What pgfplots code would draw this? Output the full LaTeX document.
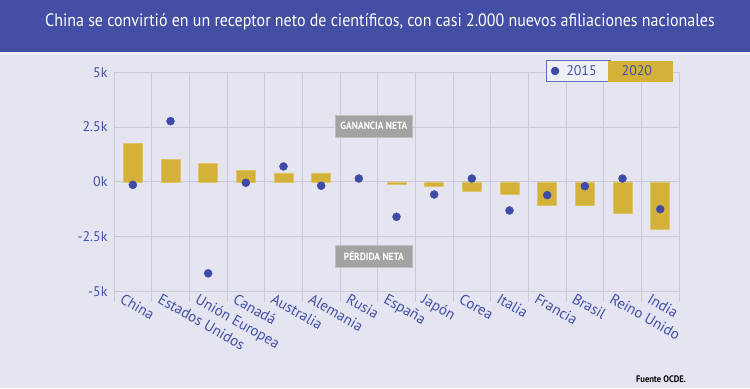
\documentclass[border=0pt]{standalone}
\usepackage{pgfplots}
\pgfplotsset{compat=1.18}
\usepackage{fontspec}
\setmainfont{PT Sans}
\newfontfamily\condfont[FakeStretch=0.89]{PT Sans}
\newfontfamily\boxfont[FakeStretch=0.9]{PT Sans}
\definecolor{band}{HTML}{434EA5}
\definecolor{bg}{HTML}{E4E5F0}
\definecolor{stripe}{HTML}{EDEDF5}
\definecolor{gold}{HTML}{D4B138}
\definecolor{dotc}{HTML}{3D4AA6}
\definecolor{textblue}{HTML}{4350A8}
\definecolor{gridc}{HTML}{C9CADB}
\definecolor{boxgray}{HTML}{A3A3A3}
\begin{document}
\begin{tikzpicture}[x=1bp,y=1bp]
\useasboundingbox (0,0) rectangle (750,388);
\fill[bg] (0,0) rectangle (750,388);
\fill[band] (0,336.3) rectangle (750,388);
\fill[stripe] (0,333) rectangle (750,336.3);
\node[text=white, font=\condfont\fontsize{18}{20}\selectfont] at (380,366) {China se convirtió en un receptor neto de científicos, con casi 2.000 nuevos afiliaciones nacionales};
\node[text=black, font=\boxfont\bfseries\fontsize{9.5}{11}\selectfont] at (661,9) {Fuente OCDE.};
\begin{axis}[
  at={(114bp,96.7bp)}, anchor=south west,
  scale only axis, width=565bp, height=219bp,
  xmin=-0.5, xmax=14.5, ymin=-5000, ymax=5000,
  clip=false,
  axis line style={draw=none},
  tick style={draw=none},
  major tick length=0pt,
  xtick={0,...,14},
  xticklabels={China,Estados Unidos,Unión Europea,Canadá,Australia,Alemania,Rusia,España,Japón,Corea,Italia,Francia,Brasil,Reino Unido,India},
  x tick label style={rotate=-30, anchor=north west, font=\fontsize{15}{17}\selectfont, text=textblue, xshift=-10bp, yshift=-2bp},
  ytick={-5000,-2500,0,2500,5000},
  yticklabels={-5k,-2.5k,0k,2.5k,5k},
  y tick label style={font=\fontsize{14}{16}\selectfont, text=textblue, xshift=-3bp},
  ymajorgrids,
  major grid style={gridc, line width=1bp},
  legend style={draw=none, fill=none, at={(axis description cs:0.7676,1.006)}, anchor=west,
    font=\fontsize{14}{16}\selectfont, text=textblue, legend columns=2,
    /tikz/every odd column/.append style={column sep=5bp},
    /tikz/every even column/.append style={column sep=16bp}},
]
\addlegendimage{legend image code/.code={\draw[overlay, draw=dotc!80!white, line width=1bp, fill=bg!60!white] (-8.4bp,-10.15bp) rectangle (55.6bp,10.15bp); \fill[dotc] (0,0) circle (4bp);}}
\addlegendentry{2015}
\addlegendimage{legend image code/.code={\fill[overlay, gold] (-6.4bp,-10.15bp) rectangle (57.3bp,10.15bp); \path[draw=none, fill=none] (0,-4bp) -- (0,4bp);}}
\addlegendentry{2020}
\pgfplotsinvokeforeach{-0.5,0.5,1.5,2.5,3.5,4.5,5.5,6.5,7.5,8.5,9.5,10.5,11.5,12.5,13.5,14.5}{
  \draw[gridc, line width=1bp] (axis cs:#1,5000) -- (axis cs:#1,-5500);
}
\addplot[ybar, bar width=0.5, fill=gold, draw=gold!75!white, line width=0.6bp] coordinates {
(0,1760) (1,1035) (2,855) (3,535) (4,410) (5,410) (7,-130) (8,-215) (9,-455) (10,-580) (11,-1080) (12,-1095) (13,-1430) (14,-2175)};
\addplot[only marks, mark=*, mark size=4bp, mark options={fill=dotc, draw=dotc}] coordinates {
(0,-140) (1,2770) (2,-4180) (3,-45) (4,700) (5,-180) (6,150) (7,-1600) (8,-580) (9,150) (10,-1310) (11,-610) (12,-200) (13,150) (14,-1250)};
\node[fill=boxgray, draw=boxgray!70!white, text=white, font=\boxfont\bfseries\fontsize{10.5}{12}\selectfont, minimum width=77bp, minimum height=22bp, inner sep=0pt] at (axis cs:6.40,2555) {GANANCIA NETA};
\node[fill=boxgray, draw=boxgray!70!white, text=white, font=\boxfont\bfseries\fontsize{10.5}{12}\selectfont, minimum width=77bp, minimum height=22bp, inner sep=0pt] at (axis cs:6.40,-3376) {PÉRDIDA NETA};
\end{axis}
\end{tikzpicture}
\end{document}
